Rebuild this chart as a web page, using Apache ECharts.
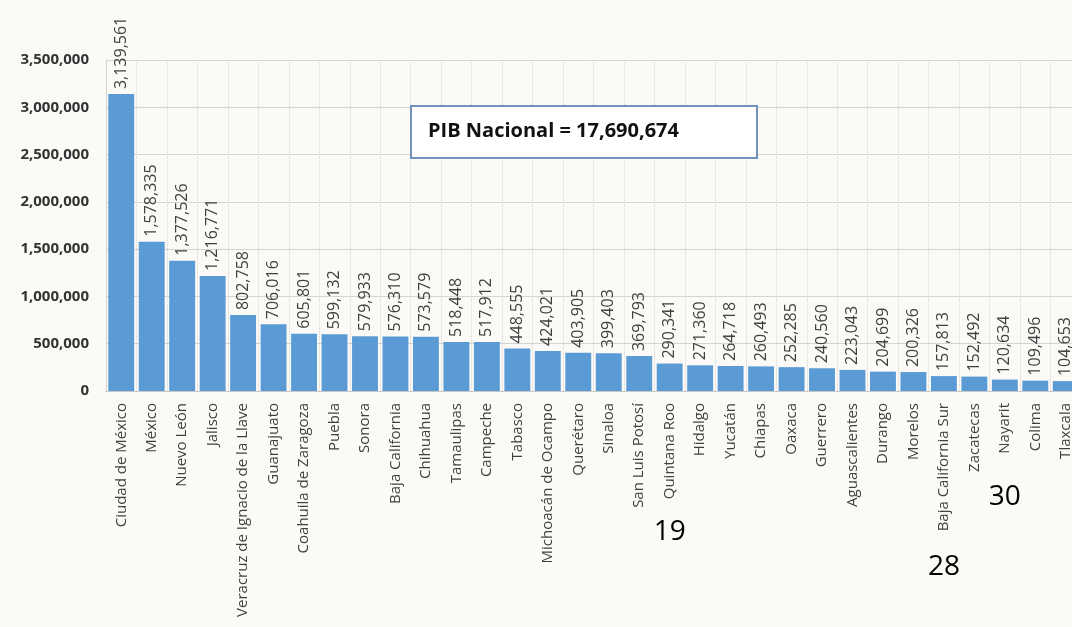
<!DOCTYPE html>
<html>
<head>
<meta charset="utf-8">
<script src="https://cdn.jsdelivr.net/npm/echarts@6/dist/echarts.min.js"></script>
<style>
  html, body { margin: 0; padding: 0; background: #fbfaf7; }
  #chart { width: 1072px; height: 627px; }
</style>
</head>
<body>
<div id="chart"></div>
<script>
const states = [
  'Ciudad de México', 'México', 'Nuevo León', 'Jalisco', 'Veracruz de Ignacio de la Llave',
  'Guanajuato', 'Coahuila de Zaragoza', 'Puebla', 'Sonora', 'Baja California', 'Chihuahua',
  'Tamaulipas', 'Campeche', 'Tabasco', 'Michoacán de Ocampo', 'Querétaro', 'Sinaloa',
  'San Luis Potosí', 'Quintana Roo', 'Hidalgo', 'Yucatán', 'Chiapas', 'Oaxaca', 'Guerrero',
  'Aguascalientes', 'Durango', 'Morelos', 'Baja California Sur', 'Zacatecas', 'Nayarit',
  'Colima', 'Tlaxcala'
]

const pib = [
  3139561, 1578335, 1377526, 1216771, 802758,
  706016, 605801, 599132, 579933, 576310, 573579,
  518448, 517912, 448555, 424021, 403905, 399403,
  369793, 290341, 271360, 264718, 260493, 252285, 240560,
  223043, 204699, 200326, 157813, 152492, 120634,
  109496, 104653
]

const yTicks = [0, 500000, 1000000, 1500000, 2000000, 2500000, 3000000, 3500000]

const totalLabel = 'PIB Nacional = 17,690,674'

// handwritten rank notes under some states
const notes = [
  { state: 'Quintana Roo', text: '19', y: 532 },
  { state: 'Baja California Sur', text: '28', y: 567 },
  { state: 'Nayarit', text: '30', y: 497 }
]

const fmt = v => Number(v).toLocaleString('en-US')
const font = '"Open Sans", "DejaVu Sans", sans-serif'

const chart = echarts.init(document.getElementById('chart'))

chart.setOption({
  backgroundColor: '#fbfaf7',
  animation: false,
  // the original slide crops the last bar, so the grid runs past the right edge
  grid: { left: 106, top: 60, bottom: 236, width: 975, outerBoundsMode: 'none' },
  xAxis: {
    type: 'category',
    data: states,
    axisLine: { lineStyle: { color: '#c8c8c8' } },
    axisTick: { show: false },
    axisLabel: {
      rotate: 90,
      interval: 0,
      margin: 12,
      fontFamily: font,
      fontSize: 15,
      color: '#404040'
    },
    splitLine: {
      show: true,
      lineStyle: { color: '#d4d4d4', type: 'dotted' }
    }
  },
  yAxis: {
    type: 'value',
    min: yTicks[0],
    max: yTicks[yTicks.length - 1],
    interval: yTicks[1] - yTicks[0],
    axisLine: { show: true, lineStyle: { color: '#d4d4d4' } },
    axisTick: { show: false },
    axisLabel: {
      margin: 17,
      fontFamily: font,
      fontSize: 15,
      fontWeight: 'bold',
      color: '#333',
      formatter: v => fmt(v)
    },
    splitLine: { lineStyle: { color: '#d4d4d4' } }
  },
  series: [{
    type: 'bar',
    data: pib,
    barCategoryGap: '15%',
    itemStyle: { color: '#5b9bd5' },
    label: {
      show: true,
      position: 'top',
      rotate: 90,
      align: 'left',
      verticalAlign: 'middle',
      distance: 5,
      fontFamily: font,
      fontSize: 16,
      color: '#404040',
      formatter: p => fmt(p.value)
    }
  }]
})

const graphics = [{
  id: 'box',
  type: 'rect',
  shape: { x: 411, y: 106, width: 346, height: 52 },
  style: { fill: '#ffffff', stroke: '#6f93bd', lineWidth: 2 }
}, {
  id: 'total',
  type: 'text',
  x: 428,
  y: 131,
  style: {
    text: totalLabel,
    fontFamily: font,
    fontSize: 20,
    fontWeight: 'bold',
    fill: '#111',
    verticalAlign: 'middle'
  }
}]

notes.forEach((n, i) => {
  graphics.push({
    id: 'note' + i,
    type: 'text',
    x: chart.convertToPixel({ xAxisIndex: 0 }, n.state),
    y: n.y,
    style: {
      text: n.text,
      fontFamily: font,
      fontSize: 28,
      fontWeight: 'normal',
      fill: '#000',
      align: 'center',
      verticalAlign: 'middle'
    }
  })
})

chart.setOption({ graphic: graphics })
</script>
</body>
</html>
